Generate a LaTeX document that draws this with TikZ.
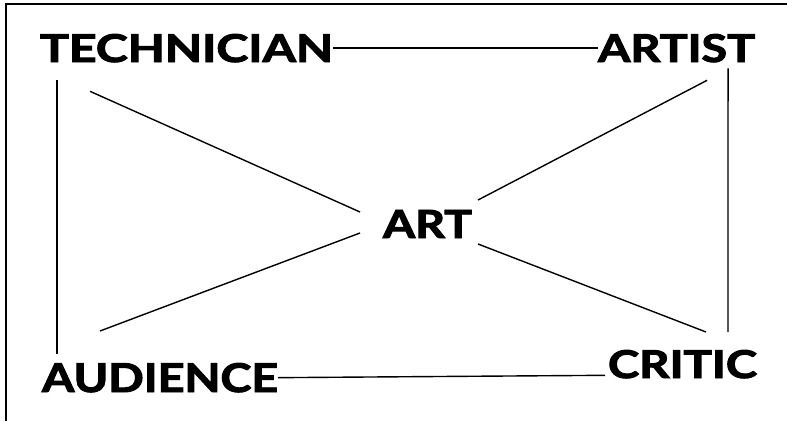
\documentclass[tikz,border=0pt]{standalone}
\usepackage{fontspec}
\usepackage{graphicx}
\setmainfont{Lato}[BoldFeatures={FakeBold=2.4}]
\newcommand{\boxtxt}[3]{\resizebox{#1pt}{#2pt}{\bfseries #3}}
\begin{document}
\begin{tikzpicture}[x=1pt,y=-1pt,
  lbl/.style={inner sep=0pt,outer sep=0pt,anchor=base west},
  conn/.style={line width=1.4pt,black},
  frame/.style={line width=2pt,black}]
\useasboundingbox (0,0) rectangle (787,421);
\draw[frame] (6,421) -- (6,4) -- (787,4);
\node[lbl] (tech) at (40,62) {\boxtxt{293}{28}{TECHNICIAN}};
\node[lbl] (artist) at (598,62) {\boxtxt{157}{28}{ARTIST}};
\node[lbl] (art) at (383,238) {\boxtxt{89}{28}{ART}};
\node[lbl] (aud) at (42,392) {\boxtxt{236}{29}{AUDIENCE}};
\node[lbl] (crit) at (608,378) {\boxtxt{149}{28}{CRITIC}};
\draw[conn] (tech.east) -- (artist.west);
\draw[conn] (aud.east) -- ([shift={(-3,-3)}]crit.south west);
\draw[conn] ([shift={(17,18)}]tech.south west) -- ([shift={(15,-9)}]aud.north west);
\draw[conn] ([shift={(-27,6)}]artist.south east) -- ([shift={(120,-18)}]crit.north west);
\draw[conn] ([shift={(50,29)}]tech.south west) -- ([shift={(-23,-12)}]art.west);
\draw[conn] ([shift={(58,-32)}]aud.north west) -- ([shift={(-23,9)}]art.west);
\draw[conn] ([shift={(-48,18)}]artist.south east) -- ([shift={(6,-24)}]art.east);
\draw[conn] ([shift={(98,-18)}]crit.north west) -- ([shift={(6,20)}]art.east);
\end{tikzpicture}
\end{document}
